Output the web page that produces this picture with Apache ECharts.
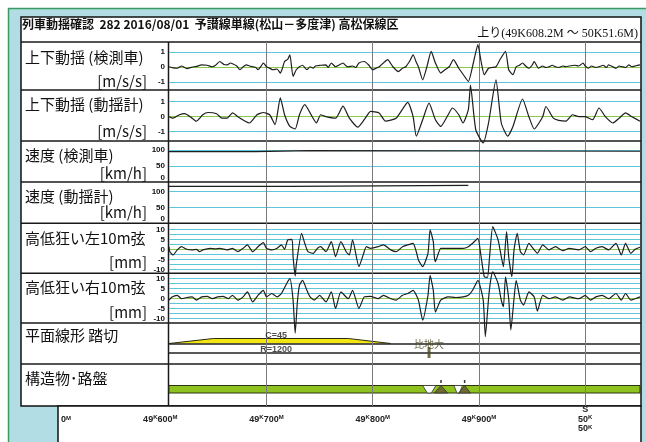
<!DOCTYPE html>
<html><head><meta charset="utf-8">
<script src="https://cdn.jsdelivr.net/npm/echarts@6/dist/echarts.min.js"></script>
<style>html,body{margin:0;padding:0;background:#fff}#c{width:646px;height:442px}</style>
</head><body><div id="c"></div>
<script>
// ---- data (positions are metres past 49K) ----
const kmStart = 608.2, kmEnd = 1051.6;
const gridKm = [700, 800, 900, 1000];
const tickKm = [600, 700, 800, 900, 1000];
const tickTexts = [[' ', '49K600M'], [' ', '49K700M'], [' ', '49K800M'], [' ', '49K900M'], ['S', '50K', '50K']];
const titleText = '列車動揺確認  282 2016/08/01  予讃線単線(松山－多度津) 高松保線区';
const rangeText = '上り(49K608.2M ～ 50K51.6M)';
const rowLabels = ['上下動揺 (検測車)', '上下動揺 (動揺計)', '速度 (検測車)', '速度 (動揺計)', '高低狂い左10m弦', '高低狂い右10m弦', '平面線形 踏切', '構造物･路盤'];
const rowUnits = ['[m/s/s]', '[m/s/s]', '[km/h]', '[km/h]', '[mm]', '[mm]'];
const accelTicks = [-1, 0, 1];
const speedTicks = [0, 50, 100];
const levelTicks = [-10, -5, 0, 5, 10];
const levelLines = [-10, -7.5, -5, -2.5, 2.5, 5, 7.5, 10];

const vertCar = [[608.2,0],[612,-0.08],[616,-0.1],[620,0.05],[625,-0.13],[630,-0.02],[634,0.02],[639,0.13],[644,0.1],[649,0],[652,0.1],[656,0.35],[660,0.15],[663,0.13],[666,0.25],[668,0.2],[672,0.05],[675,-0.2],[678,0],[681,0.13],[684,0.05],[687,0],[690,-0.05],[692,-0.2],[695,0.05],[697,0.25],[700,0],[703,-0.1],[706,-0.2],[710,-0.15],[713,-0.42],[715,-0.1],[717,0.35],[720,0.5],[722,0.8],[725,-0.65],[728,-0.2],[731,0],[734,0.1],[738,-0.2],[741,0],[744,-0.1],[746,0.05],[751,0.1],[756,0.13],[758,-0.05],[761,0.25],[765,0],[768,0.1],[772,0.25],[775,0.05],[777,0],[781,0.05],[784,-0.05],[787,0.25],[792,0.35],[796,0.13],[800,-0.2],[803,-0.1],[806,0],[810,0.25],[814,0.47],[819,0],[824,-0.32],[828,-0.1],[831,0],[835,0.4],[838,0.8],[841,0.3],[843,0],[847,-0.87],[851,0],[855,1.02],[859,0.25],[864,-0.42],[868,-0.2],[872,0],[876,0.47],[881,-0.1],[886,-0.6],[890,-0.98],[895,0.35],[899,1.47],[902,0.35],[905,-0.53],[909,-0.1],[912,-0.05],[916,0],[920,0.5],[925,1.02],[928,-0.2],[932,-0.53],[935,0],[938,0.1],[941,0.25],[944,0.05],[947,-0.1],[950,0.1],[952,0.35],[956,-0.1],[960,0.05],[963,-0.05],[966,0],[969,0.1],[972,0],[975,-0.05],[979,0.05],[982,0],[985,0.05],[990,0.1],[994,0.05],[998,0.25],[1000,0.05],[1003,-0.1],[1006,0.05],[1010,-0.05],[1013,0],[1017,0.1],[1020,-0.05],[1022,0.13],[1026,0],[1029,-0.1],[1032,0.05],[1035,0],[1038,-0.05],[1041,0.13],[1044,0],[1047,0.05],[1051.6,0.13]];

const vertMeter = [[608.2,0],[612,-0.1],[618,0.13],[623,0.2],[630,-0.1],[634,-0.3],[640,0.13],[645,0.28],[653,0.2],[658,-0.1],[663,-0.1],[668,0.25],[673,0],[680,-0.3],[684,-0.42],[691,0.13],[697,0.28],[703,0.13],[708,-0.53],[713,1.25],[717,0.13],[722,-0.65],[727,-0.82],[731,0.13],[736,0.8],[743,0],[747,-0.42],[751,0.13],[756,0],[765,-0.1],[772,0.7],[778,-0.1],[786,-0.7],[792,-0.2],[798,0.35],[806,0.25],[812,-0.3],[822,-0.1],[833,0.95],[838,0],[841,-1.3],[847,-0.2],[853,0.9],[859,-0.2],[864,-0.65],[871,0.13],[875,0.58],[881,0.13],[885,-0.42],[890,0.47],[892,2.1],[897,-0.87],[904,-1.75],[909,-0.42],[916,2.45],[921,-0.42],[927,-1.3],[932,-0.65],[941,1.18],[947,0],[952,-0.82],[960,0],[963,0.68],[970,-0.1],[975,-0.25],[982,-0.3],[988,0.13],[994,0],[1000,0],[1007,-0.2],[1013,0.58],[1019,0],[1026,-0.42],[1032,-0.1],[1038,0.25],[1044,0],[1051.6,-0.3]];

const speedCar = [[608.2,95],[689,95],[690,98],[741,98],[742,96],[1051.6,96]];
const speedMeter = [[608.2,117],[722,117],[723,120],[890,120]];

const levelLeft = [[608.2,1.3],[609,-1.2],[612,-2.8],[616,-0.3],[620,1.3],[625,0],[630,-0.3],[634,0],[637,-1.2],[640,-0.3],[647,0.5],[652,0.2],[656,0.5],[663,-0.3],[668,0.5],[673,-1.2],[678,0.5],[682,2.2],[687,-1.2],[692,1.3],[697,3.3],[700,0.5],[705,-0.3],[710,0.5],[714,2.2],[717,0],[720,4.7],[724,5],[725,-3.7],[727,-13.3],[728,-7.8],[733,8],[736,3],[739,-1.2],[744,-2],[748,0.5],[751,1.3],[756,-1.2],[761,3.8],[765,-3.7],[770,3.8],[775,-1.2],[778,-2.8],[781,4.7],[787,-8.7],[791,-2.8],[794,1.3],[798,0.5],[805,1.3],[810,2.2],[817,-0.3],[822,-1.2],[828,1.3],[833,2.2],[838,3],[841,-1.2],[843,-5.3],[847,-8.7],[852,-2],[854,9.7],[857,3.8],[858,-3.7],[859,-6.2],[864,0.5],[871,0.5],[878,0.5],[885,0.5],[890,1.3],[894,3],[899,5.5],[902,-3.7],[905,-13.7],[908,-14],[910,-3.7],[913,11.3],[918,4.7],[921,-3.7],[923,-8.7],[926,8.8],[928,-3.7],[931,-13.7],[933,-0.3],[936,8],[939,-1.2],[942,-2.8],[947,3],[952,-0.3],[955,-2],[960,2.2],[966,-0.3],[972,1.3],[979,-0.7],[985,0.5],[994,-0.3],[1000,1.3],[1005,-1.2],[1010,0.5],[1016,1.3],[1022,-0.3],[1029,3],[1034,-2.8],[1038,3],[1043,-2],[1047,0],[1051.6,1]];

const levelRight = [[608.2,-0.7],[611,0.9],[616,1.7],[620,0],[625,0.6],[630,0.9],[634,-0.7],[639,0.9],[644,1.2],[649,0],[654,0.9],[659,1.2],[664,0],[668,1.7],[673,-0.7],[678,0.9],[682,3.4],[687,-1.6],[692,1.7],[697,4.2],[700,0.9],[705,2.6],[710,0.9],[714,2.6],[719,7.6],[722,10],[725,-0.7],[727,-17.2],[729,-2],[731,6.7],[734,9.2],[738,4.2],[741,0.9],[745,-0.7],[750,1.7],[756,-1.6],[761,3.4],[765,-4.9],[770,3.4],[777,0],[781,4.2],[787,-4.9],[792,0.9],[798,1.2],[805,0],[810,1.7],[817,0],[822,-0.7],[828,1.7],[833,2.6],[838,4.2],[843,-0.7],[847,-10.7],[852,1.7],[854,11.7],[857,4.2],[859,-6.7],[864,-0.7],[871,0.9],[878,0.6],[885,0.9],[890,1.7],[894,4.2],[899,9.2],[904,-0.7],[906,-19],[909,0],[911,9.2],[913,13.4],[918,7.6],[921,-0.7],[923,-4],[925,10.9],[928,0],[930,-15.7],[933,0],[935,9.2],[939,-0.7],[942,-3.2],[947,3.4],[952,0.9],[955,-6.2],[960,1.7],[966,0],[972,0.9],[979,-0.7],[985,0.9],[994,0],[1000,1.7],[1005,-0.7],[1010,0.9],[1016,1.7],[1022,0],[1029,2.6],[1034,-0.7],[1038,2.6],[1043,-0.7],[1047,0],[1051.6,0.9]];

const cant = [[608.2,0],[650,45],[777,45],[817,0]];
const curveLabelKm = 709;
const curveCant = 45, curveRadius = 1200;
const crossings = [{km: 853, name: '比地大'}];
const structureBand = [[608.2, 1051.6]];
const bridgeGaps = [[847, 859.5], [876.5, 884.4]];
const embankments = [[858, 870.5], [881, 892]];

// ---- layout ----
const PL = 169, PW = 471;
const rows = [[42,48],[90,51],[141,41],[182,41],[223.3,50],[273.3,50],[323,41],[364,42],[42,364]];
const yRanges = [[-1.55,1.65],[-1.62,1.78],[0,128],[0,131],[-12,13],[-12.3,12.7],[-184.5,184.5],[0,1],[0,1]];
const CYAN = '#5ec6db', GREEN0 = '#8cc84a', INK = '#1e1e1e';
const tickFont = {fontSize: 8, fontWeight: 'bold', color: '#111', fontFamily: 'Liberation Sans', margin: 4};

const grids = rows.map(r => ({left: PL, top: r[0], width: PW, height: r[1], outerBoundsMode: 'none', containLabel: false}));
grids.push({left: 58, top: 403, width: 583, height: 1, outerBoundsMode: 'none', containLabel: false});

const xAxes = rows.map((r, i) => ({gridIndex: i, type: 'value', min: kmStart, max: kmEnd, show: false}));
xAxes.push({
  gridIndex: 9, type: 'value', min: 503.7, max: 1052.5, position: 'bottom',
  axisLine: {show: false}, axisTick: {show: false}, splitLine: {show: false},
  axisLabel: {
    customValues: tickKm, margin: 1, hideOverlap: false, showMinLabel: true, showMaxLabel: true,
    formatter: (v) => {
      const t = tickTexts[tickKm.indexOf(v)] || [' ', ''];
      return t.map(l => l.replace(/(\d+|S| )/g, '{n|$1}').replace(/([KM])/g, '{s|$1}')).join('\n');
    },
    rich: {
      n: {fontSize: 9, fontWeight: 'bold', fontFamily: 'Liberation Sans', color: '#222', lineHeight: 9.5},
      s: {fontSize: 6, fontWeight: 'bold', fontFamily: 'Liberation Sans', color: '#222', lineHeight: 6, verticalAlign: 'top'}
    }
  }
});
const yTicks = [accelTicks, accelTicks, speedTicks, speedTicks, levelTicks, levelTicks, null, null, null];
const yAxes = rows.map((r, i) => {
  const ax = {gridIndex: i, type: 'value', min: yRanges[i][0], max: yRanges[i][1],
    axisLine: {show: false}, axisTick: {show: false}, splitLine: {show: false}};
  if (yTicks[i]) {
    ax.axisLabel = Object.assign({customValues: yTicks[i], showMinLabel: true, showMaxLabel: true}, tickFont);
    if (i === 2 || i === 3) ax.axisLabel.verticalAlignMinLabel = 'bottom';
  } else ax.axisLabel = {show: false};
  return ax;
});
yAxes.push({gridIndex: 9, type: 'value', show: false});

function hLines(idx, items) {
  return {type: 'line', xAxisIndex: idx, yAxisIndex: idx, data: [], z: 2, silent: true,
    markLine: {silent: true, symbol: ['none','none'], animation: false, label: {show: false},
      data: items.map(it => ({yAxis: it[0], lineStyle: {color: it[1], width: it[2] || 1.2, type: 'solid'}}))}};
}
function curve(idx, data) {
  return {type: 'line', xAxisIndex: idx, yAxisIndex: idx, data: data, showSymbol: false, symbol: 'none',
    smooth: 0.18, clip: false, z: 6, lineStyle: {color: INK, width: 1.2}, silent: true};
}
const series = [];
series.push(hLines(0, [[1,CYAN],[-1,CYAN],[0,GREEN0]]));
series.push(hLines(1, [[1,CYAN],[-1,CYAN],[0,GREEN0]]));
series.push(hLines(2, [[100,CYAN],[50,CYAN]]));
series.push(hLines(3, [[100,CYAN],[50,CYAN]]));
series.push(hLines(4, levelLines.map(v => [v, CYAN]).concat([[0, GREEN0]])));
series.push(hLines(5, levelLines.map(v => [v, CYAN]).concat([[0, GREEN0]])));
series.push(hLines(6, [[0,'#222',1.5],[-85.5,'#222',1.5]]));
series.push({type: 'line', xAxisIndex: 8, yAxisIndex: 8, data: [], z: 3, silent: true,
  markLine: {silent: true, symbol: ['none','none'], label: {show: false},
    data: gridKm.map(k => ({xAxis: k, lineStyle: {color: '#7a7a7a', width: 1, type: 'solid'}}))}});
series.push(curve(0, vertCar));
series.push(curve(1, vertMeter));
series.push(Object.assign(curve(2, speedCar), {smooth: false}));
series.push(Object.assign(curve(3, speedMeter), {smooth: false}));
series.push(curve(4, levelLeft));
series.push(curve(5, levelRight));
series.push({type: 'line', xAxisIndex: 6, yAxisIndex: 6, data: cant, showSymbol: false, symbol: 'none', z: 4,
  lineStyle: {color: '#2b2b10', width: 1}, areaStyle: {color: '#f2e512', opacity: 1}, silent: true});
series.push({type: 'scatter', xAxisIndex: 6, yAxisIndex: 6, symbolSize: 0, z: 7, silent: true,
  label: {show: true, fontSize: 9, fontWeight: 'bold', fontFamily: 'Liberation Sans', color: '#222'},
  data: [
    {value: [curveLabelKm, curveCant], label: {formatter: 'C=' + curveCant, position: 'top', distance: -2}},
    {value: [curveLabelKm, 0], label: {formatter: 'R=' + curveRadius, position: 'bottom', distance: 2}}
  ]});
series.push({type: 'scatter', xAxisIndex: 6, yAxisIndex: 6, symbol: 'rect', symbolSize: [3, 11], z: 7, silent: true,
  itemStyle: {color: '#4b4a1e'},
  label: {show: true, position: 'top', distance: -2, formatter: '{b}', fontSize: 10, color: '#4a4920', fontFamily: 'Noto Sans CJK JP'},
  data: crossings.map(c => ({value: [c.km, -81], name: c.name}))});
// structures row
series.push({type: 'custom', xAxisIndex: 7, yAxisIndex: 7, data: structureBand, z: 4, silent: true,
  renderItem: (p, api) => {
    const a = api.coord([api.value(0), 0]), b = api.coord([api.value(1), 0]); const cs = p.coordSys;
    return {type: 'rect', shape: {x: a[0], y: cs.y + 21.5, width: b[0] - a[0], height: 7.5},
      style: {fill: '#8dc21f', stroke: '#2c3510', lineWidth: 1}};
  }});
series.push({type: 'custom', xAxisIndex: 7, yAxisIndex: 7, data: bridgeGaps, z: 5, silent: true,
  renderItem: (p, api) => {
    const a = api.coord([api.value(0), 0])[0], b = api.coord([api.value(1), 0])[0]; const cs = p.coordSys;
    const t = cs.y + 21.5, bt = t + 7.5, w = b - a;
    return {type: 'polygon', shape: {points: [[a, t], [b, t], [b - w * 0.35, bt], [a + w * 0.35, bt]]},
      style: {fill: '#fff', stroke: '#333', lineWidth: 0.8}};
  }});
series.push({type: 'custom', xAxisIndex: 7, yAxisIndex: 7, data: embankments, z: 5, silent: true,
  renderItem: (p, api) => {
    const a = api.coord([api.value(0), 0])[0], b = api.coord([api.value(1), 0])[0]; const cs = p.coordSys;
    const t = cs.y + 21.5, bt = t + 7.5, m = (a + b) / 2;
    return {type: 'group', children: [
      {type: 'polygon', shape: {points: [[a, bt], [b, bt], [m, t]]}, style: {fill: '#6d6a2d', stroke: '#333', lineWidth: 0.8}},
      {type: 'rect', shape: {x: m - 0.75, y: t - 5.5, width: 1.5, height: 3}, style: {fill: '#333'}}
    ]};
  }});

// ---- frame & texts ----
const els = [];
els.push({type: 'rect', z: -20, shape: {x: 0, y: 0, width: 646, height: 442}, style: {fill: '#fff'}});
els.push({type: 'rect', z: -19, shape: {x: 8.5, y: 8.5, width: 660, height: 460}, style: {fill: '#b2dde4', stroke: '#3b9a62', lineWidth: 1.5}});
els.push({type: 'rect', z: -18, shape: {x: 21, y: 17, width: 620, height: 389}, style: {fill: '#fff', stroke: '#111', lineWidth: 1.5}});
els.push({type: 'rect', z: -18, shape: {x: 58, y: 406, width: 583, height: 50}, style: {fill: '#fff', stroke: '#111', lineWidth: 1.5}});
[42, 90, 141, 182, 223.3, 273.3, 323, 364].forEach(y => els.push({type: 'line', z: -10, shape: {x1: 21, y1: y, x2: 641, y2: y}, style: {stroke: '#1a1a1a', lineWidth: 1.5}}));
els.push({type: 'line', z: -10, shape: {x1: 168.5, y1: 42, x2: 168.5, y2: 406}, style: {stroke: '#1a1a1a', lineWidth: 1.5}});
const labelY = [57, 104, 155, 196, 238, 287, 335, 378];
const unitY = [81, 131, 173, 212, 262, 312];
rowLabels.forEach((t, i) => els.push({type: 'text', z: 10, x: 25, y: labelY[i],
  style: {text: t, fontSize: 15, fontFamily: 'Noto Sans CJK JP', fill: '#111', textVerticalAlign: 'middle', verticalAlign: 'middle'}}));
rowUnits.forEach((t, i) => els.push({type: 'text', z: 10, x: 147, y: unitY[i],
  style: {text: t, fontSize: 15, fontFamily: 'Noto Sans CJK JP', fill: '#111', textAlign: 'right', align: 'right', textVerticalAlign: 'middle', verticalAlign: 'middle'}}));
els.push({type: 'text', z: 10, x: 22, y: 24, style: {text: titleText, fontSize: 12, fontFamily: 'Noto Sans CJK JP', fontWeight: 'bold', fill: '#111', textVerticalAlign: 'middle', verticalAlign: 'middle'}});
els.push({type: 'text', z: 10, x: 638, y: 34, style: {text: rangeText, fontSize: 12, fontFamily: '"Liberation Serif","Noto Sans CJK JP"', fill: '#111', textAlign: 'right', align: 'right', textVerticalAlign: 'middle', verticalAlign: 'middle'}});
els.push({type: 'text', z: 10, x: 61, y: 420, style: {text: '{n|0}{s|M}', textVerticalAlign: 'middle', verticalAlign: 'middle',
  rich: {n: {fontSize: 9, fontWeight: 'bold', fontFamily: 'Liberation Sans', fill: '#222', lineHeight: 9.5}, s: {fontSize: 6, fontWeight: 'bold', fontFamily: 'Liberation Sans', fill: '#222', lineHeight: 6, verticalAlign: 'top'}}}});

const chart = echarts.init(document.getElementById('c'), null, {renderer: 'canvas', width: 646, height: 442});
chart.setOption({animation: false, backgroundColor: '#fff', grid: grids, xAxis: xAxes, yAxis: yAxes, series: series, graphic: {elements: els}});
</script></body></html>
